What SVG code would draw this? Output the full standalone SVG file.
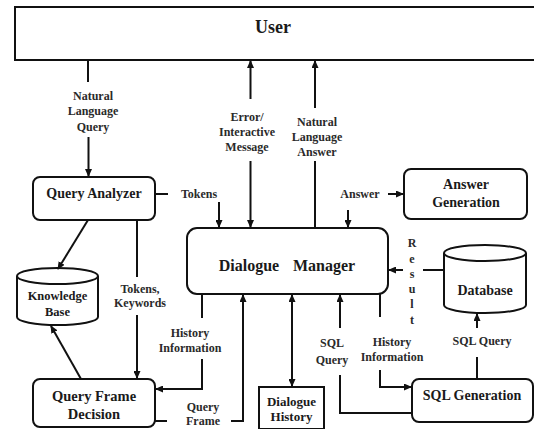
<svg xmlns="http://www.w3.org/2000/svg" width="534" height="429" viewBox="0 0 534 429">
<style>
.box{fill:#fff;stroke:#111;stroke-width:2}
.ln{fill:none;stroke:#111;stroke-width:2}
.arr{marker-end:url(#ah)}
text{font-family:"Liberation Serif","Times New Roman",serif;font-weight:bold;fill:#1a1a1a;text-anchor:middle}
.lbl{font-size:12px;fill:#2a2a2a}
.nd{font-size:14px}
</style>
<defs>
<marker id="ah" markerUnits="userSpaceOnUse" markerWidth="8" markerHeight="7" refX="7" refY="3.5" orient="auto">
<path d="M0,0 L8,3.5 L0,7 z" fill="#111"/>
</marker>
</defs>
<rect width="534" height="429" fill="#fff"/>

<g id="user">
<rect class="box" x="15" y="7" width="530" height="53"/>
<text x="273" y="33" font-size="18">User</text>
</g>

<g id="query-analyzer">
<rect class="box" x="33" y="177" width="122" height="43" rx="7"/>
<text class="nd" x="94" y="198">Query Analyzer</text>
</g>

<g id="knowledge-base">
<path class="box" d="M17,276 L17,317 A40.5,8 0 0 0 98,317 L98,276"/>
<ellipse class="box" cx="57.5" cy="276" rx="40.5" ry="8"/>
<text x="57.5" y="300" font-size="12.5">Knowledge</text>
<text x="57.5" y="316" font-size="12.5">Base</text>
</g>

<g id="dialogue-manager">
<rect class="box" x="187" y="228" width="201" height="66" rx="10"/>
<text x="249" y="271" font-size="16">Dialogue</text>
<text x="324" y="271" font-size="16">Manager</text>
</g>

<g id="answer-generation">
<rect class="box" x="404" y="169" width="123" height="50" rx="7"/>
<text class="nd" x="466" y="189">Answer</text>
<text class="nd" x="466" y="207">Generation</text>
</g>

<g id="database">
<path class="box" d="M444,253 L444,305 A41,8 0 0 0 526,305 L526,253"/>
<ellipse class="box" cx="485" cy="253" rx="41" ry="8"/>
<text class="nd" x="485" y="295">Database</text>
</g>

<g id="query-frame-decision">
<rect class="box" x="33" y="379" width="122" height="48" rx="7"/>
<text x="94" y="401" font-size="14.5">Query Frame</text>
<text x="94" y="419" font-size="14.5">Decision</text>
</g>

<g id="dialogue-history">
<rect class="box" x="259" y="387" width="65" height="42"/>
<text x="291.5" y="406" font-size="13">Dialogue</text>
<text x="291.5" y="421" font-size="13">History</text>
</g>

<g id="sql-generation">
<rect class="box" x="412" y="379" width="121" height="43" rx="7"/>
<text class="nd" x="472" y="400">SQL Generation</text>
</g>

<g id="connectors">
<!-- User -> Query Analyzer -->
<path class="ln" d="M88,60 L88,82"/>
<path class="ln arr" d="M88.5,137 L88.5,176"/>
<text class="lbl" x="93" y="100">Natural</text>
<text class="lbl" x="93" y="115">Language</text>
<text class="lbl" x="93" y="131">Query</text>

<!-- Error / Interactive Message -->
<path class="ln arr" d="M250.5,99 L250.5,61"/>
<path class="ln arr" d="M250.5,161 L250.5,227"/>
<text class="lbl" x="247" y="121">Error/</text>
<text class="lbl" x="247" y="136">Interactive</text>
<text class="lbl" x="247" y="151">Message</text>

<!-- Natural Language Answer -->
<path class="ln arr" d="M315,108 L315,61"/>
<path class="ln" d="M315,161 L315,228"/>
<text class="lbl" x="317" y="126">Natural</text>
<text class="lbl" x="317" y="141">Language</text>
<text class="lbl" x="317" y="156">Answer</text>

<!-- Tokens -->
<path class="ln" d="M155,194 L168,194"/>
<text class="lbl" x="199" y="198">Tokens</text>
<path class="ln arr" d="M219,202 L219,227"/>

<!-- Answer -->
<text class="lbl" x="360" y="198">Answer</text>
<path class="ln arr" d="M388,194 L403,194"/>
<path class="ln arr" d="M348,210 L348,227"/>

<!-- QA -> Knowledge Base -->
<path class="ln arr" d="M88,220 L58,269"/>

<!-- Tokens, Keywords -->
<path class="ln" d="M137,220 L137,277"/>
<text class="lbl" x="140" y="293">Tokens,</text>
<text class="lbl" x="140" y="307">Keywords</text>
<path class="ln arr" d="M137,315 L137,378"/>

<!-- QFD -> Knowledge Base -->
<path class="ln arr" d="M81,379 L51,326"/>

<!-- History Information (left) -->
<path class="ln" d="M202,294 L202,318"/>
<text class="lbl" x="190" y="337">History</text>
<text class="lbl" x="190" y="352">Information</text>
<path class="ln arr" d="M202,359 L202,389 L156,389"/>

<!-- Query Frame -->
<path class="ln" d="M155,421 L167,421"/>
<text class="lbl" x="203" y="411" font-size="11">Query</text>
<text class="lbl" x="203" y="425" font-size="11">Frame</text>
<path class="ln arr" d="M231,421 L243,421 L243,295"/>

<!-- DM <-> Dialogue History -->
<path class="ln arr" d="M292,300 L292,386"/>
<path class="ln arr" d="M292,380 L292,295"/>

<!-- SQL Query (to DM) -->
<path class="ln arr" d="M340,328 L340,295"/>
<text class="lbl" x="332" y="347">SQL</text>
<text class="lbl" x="332" y="364">Query</text>
<path class="ln" d="M340,375 L340,413 L412,413"/>

<!-- History Information (right) -->
<path class="ln" d="M380,294 L380,317"/>
<text class="lbl" x="392" y="346">History</text>
<text class="lbl" x="392" y="361">Information</text>
<path class="ln arr" d="M380,370 L380,387 L411,387"/>

<!-- Result -->
<path class="ln" d="M444,270 L423,270"/>
<path class="ln arr" d="M403,270 L389,270"/>
<text class="lbl" x="412" y="247">R</text>
<text class="lbl" x="412" y="263">e</text>
<text class="lbl" x="412" y="278">s</text>
<text class="lbl" x="412" y="293">u</text>
<text class="lbl" x="412" y="308">l</text>
<text class="lbl" x="412" y="324">t</text>

<!-- SQL Query (to Database) -->
<path class="ln" d="M477,379 L477,357"/>
<text class="lbl" x="482" y="345">SQL Query</text>
<path class="ln arr" d="M477,328 L477,314"/>
</g>
</svg>
